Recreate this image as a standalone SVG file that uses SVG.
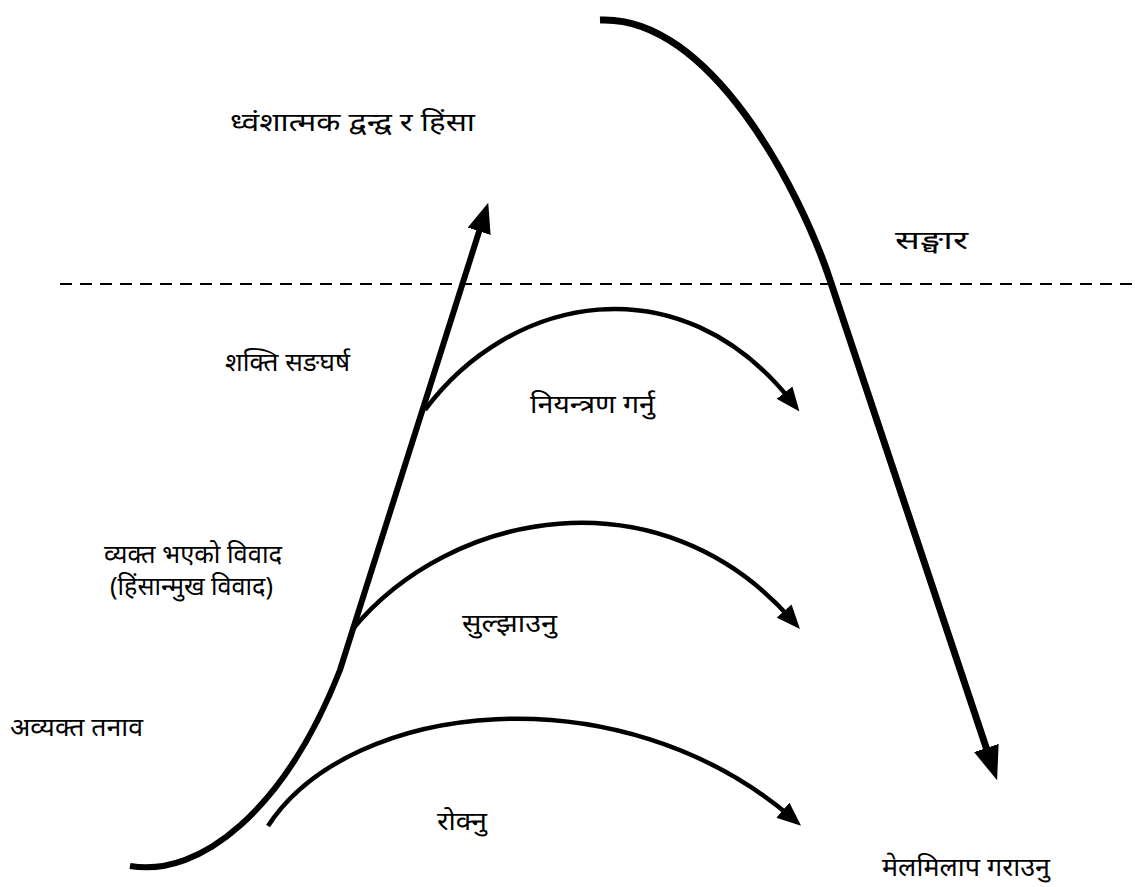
<svg xmlns="http://www.w3.org/2000/svg" width="1135" height="887" viewBox="0 0 1135 887">
<style>
text{font-family:"Noto Sans","DejaVu Sans",sans-serif;font-size:25px;fill:#000}
.thick{fill:none;stroke:#000;stroke-width:6}
.big{fill:none;stroke:#000;stroke-width:7}
.thin{fill:none;stroke:#000;stroke-width:4.5}
.dash{fill:none;stroke:#000;stroke-width:2;stroke-dasharray:12 8}
</style>
<defs>
<marker id="ahBig" markerUnits="userSpaceOnUse" markerWidth="34" markerHeight="26" viewBox="0 0 34 26" refX="18" refY="13" orient="auto"><path d="M0,0 L34,13 L0,26 z" fill="#000"/></marker>
<marker id="ahMain" markerUnits="userSpaceOnUse" markerWidth="30" markerHeight="24" viewBox="0 0 30 24" refX="16" refY="12" orient="auto"><path d="M0,0 L30,12 L0,24 z" fill="#000"/></marker>
<marker id="ahThin" markerUnits="userSpaceOnUse" markerWidth="24" markerHeight="20" viewBox="0 0 24 20" refX="12" refY="10" orient="auto"><path d="M0,0 L24,10 L0,20 z" fill="#000"/></marker>
</defs>
<g id="connectors">
<line class="dash" x1="60" y1="284" x2="1132" y2="284"/>
<path id="main-curve" class="thick" d="M130,866 C200,878 285,810 340,670 L484,216" marker-end="url(#ahMain)"/>
<path id="reconcile-curve" class="big" d="M600,20 C710,15 800,190 830,280 L992,765" marker-end="url(#ahBig)"/>
<path id="control-arc" class="thin" d="M425,410 C510,295 680,260 792,402" marker-end="url(#ahThin)"/>
<path id="resolve-arc" class="thin" d="M352,630 C450,510 660,470 792,620" marker-end="url(#ahThin)"/>
<path id="prevent-arc" class="thin" d="M268,826 C350,700 620,670 792,818" marker-end="url(#ahThin)"/>
</g>
<g id="n-destructive"><text x="230" y="131" textLength="245" lengthAdjust="spacingAndGlyphs">ध्वंशात्मक द्वन्द्व र हिंसा</text></g>
<g id="n-sanghar"><text x="895" y="249" textLength="73" lengthAdjust="spacingAndGlyphs">सङ्घार</text></g>
<g id="n-power"><text x="225" y="371" textLength="125" lengthAdjust="spacingAndGlyphs">शक्ति सङघर्ष</text></g>
<g id="n-control"><text x="530" y="413" textLength="125" lengthAdjust="spacingAndGlyphs">नियन्त्रण गर्नु</text></g>
<g id="n-manifest"><text x="104" y="563" textLength="178" lengthAdjust="spacingAndGlyphs">व्यक्त भएको विवाद</text><text x="110" y="595" textLength="163" lengthAdjust="spacingAndGlyphs">(हिंसान्मुख विवाद)</text></g>
<g id="n-resolve"><text x="462" y="632" textLength="95" lengthAdjust="spacingAndGlyphs">सुल्झाउनु</text></g>
<g id="n-latent"><text x="10" y="736" textLength="133" lengthAdjust="spacingAndGlyphs">अव्यक्त तनाव</text></g>
<g id="n-prevent"><text x="437" y="830" textLength="50" lengthAdjust="spacingAndGlyphs">रोक्नु</text></g>
<g id="n-reconcile"><text x="882" y="876" textLength="168" lengthAdjust="spacingAndGlyphs">मेलमिलाप गराउनु</text></g>
</svg>
